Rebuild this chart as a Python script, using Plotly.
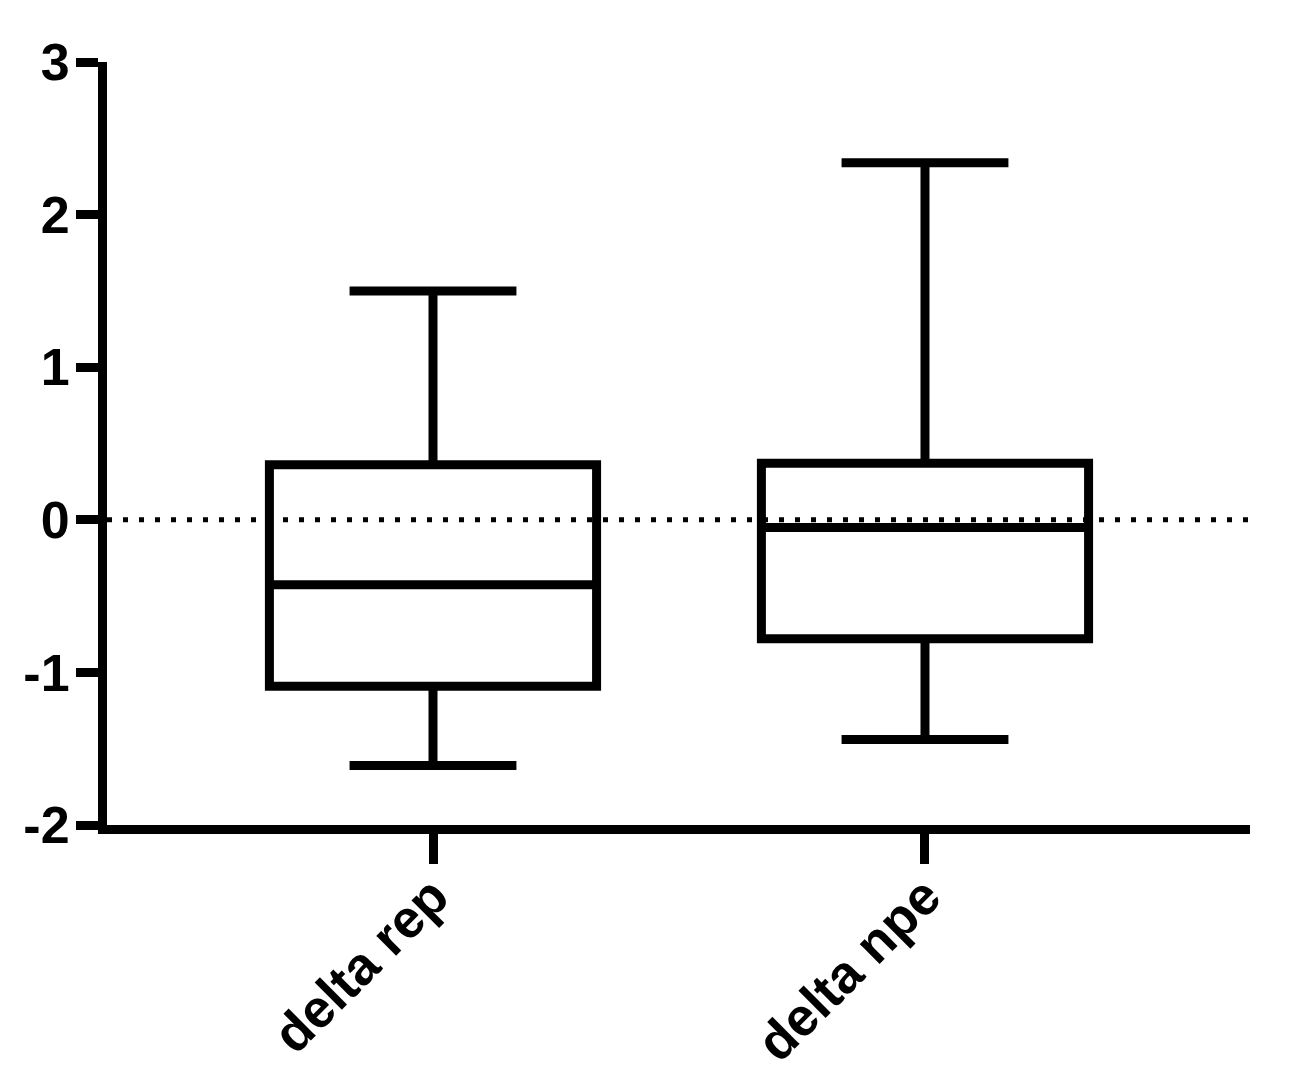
import plotly.graph_objects as go

categories = ["delta rep", "delta npe"]
lower_whisker = [-1.61, -1.44]
q1 = [-1.09, -0.78]
median = [-0.425, -0.05]
q3 = [0.36, 0.37]
upper_whisker = [1.50, 2.34]

y_tickvals = [-2, -1, 0, 1, 2, 3]
y_ticktext = ["-2", "-1", "0", "1", "2", "3"]

font_family = "Liberation Sans, Arial, sans-serif"

fig = go.Figure()
fig.add_trace(go.Box(
    x=categories,
    q1=q1,
    median=median,
    q3=q3,
    lowerfence=lower_whisker,
    upperfence=upper_whisker,
    width=0.665,
    whiskerwidth=0.51,
    fillcolor="rgba(255,255,255,0)",
    line=dict(color="black", width=9),
    boxpoints=False,
    hoverinfo="skip",
    showlegend=False,
))

fig.add_hline(y=0, line=dict(color="black", width=5, dash="5px,11px"), layer="above")

fig.update_layout(
    width=1290,
    height=1084,
    margin=dict(l=99, r=48, t=54, b=267),
    paper_bgcolor="white",
    plot_bgcolor="white",
    showlegend=False,
    font=dict(family=font_family, color="black"),
)

fig.update_xaxes(
    type="category",
    range=[-0.6626, 1.6606],
    automargin=False,
    showline=True,
    linecolor="black",
    linewidth=9,
    ticks="outside",
    ticklen=30,
    tickwidth=9,
    tickcolor="black",
    tickangle=-45,
    ticklabelstandoff=-20,
    tickfont=dict(size=53, family=font_family, weight="bold", color="black"),
    showgrid=False,
    zeroline=False,
)

fig.update_yaxes(
    range=[-2, 3],
    automargin=False,
    tickvals=y_tickvals,
    ticktext=y_ticktext,
    showline=True,
    linecolor="black",
    linewidth=9,
    ticks="outside",
    ticklen=22,
    tickwidth=9,
    tickcolor="black",
    ticklabelstandoff=-4,
    tickfont=dict(size=52, family=font_family, weight="bold", color="black"),
    showgrid=False,
    zeroline=False,
)

fig.write_html("out.html")
